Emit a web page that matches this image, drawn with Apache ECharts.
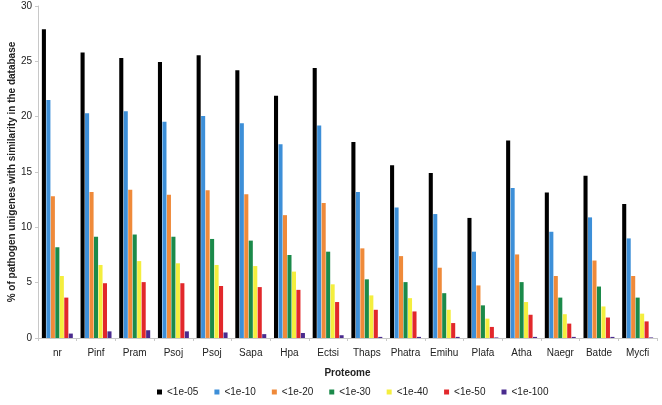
<!DOCTYPE html>
<html>
<head>
<meta charset="utf-8">
<script src="https://cdn.jsdelivr.net/npm/echarts@6/dist/echarts.min.js"></script>
<style>html,body{margin:0;padding:0;background:#fff}#c{width:662px;height:405px}</style>
</head>
<body>
<div id="c"></div>
<script>
const categories = ['nr','Pinf','Pram','Psoj','Psoj','Sapa','Hpa','Ectsi','Thaps','Phatra','Emihu','Plafa','Atha','Naegr','Batde','Mycfi'];
const seriesNames = ['<1e-05','<1e-10','<1e-20','<1e-30','<1e-40','<1e-50','<1e-100'];
const e05  = [27.9,25.8,25.3,24.95,25.55,24.2,21.9,24.4,17.7,15.6,14.9,10.85,17.85,13.15,14.65,12.1];
const e10  = [21.5,20.3,20.5,19.55,20.05,19.4,17.5,19.2,13.2,11.8,11.2,7.8,13.55,9.6,10.9,9.0];
const e20  = [12.8,13.2,13.4,12.95,13.35,13.0,11.1,12.2,8.1,7.4,6.35,4.75,7.55,5.6,7.0,5.6];
const e30  = [8.2,9.15,9.35,9.15,8.95,8.8,7.5,7.8,5.3,5.05,4.05,2.95,5.05,3.65,4.65,3.65];
const e40  = [5.6,6.6,6.95,6.75,6.6,6.5,6.0,4.85,3.85,3.6,2.55,1.75,3.25,2.15,2.85,2.2];
const e50  = [3.65,4.95,5.05,4.95,4.7,4.6,4.35,3.25,2.55,2.4,1.35,1.0,2.1,1.3,1.85,1.5];
const e100 = [0.4,0.6,0.7,0.6,0.5,0.35,0.45,0.25,0.1,0.1,0.1,0.05,0.1,0.1,0.1,0.05];
const values = [e05,e10,e20,e30,e40,e50,e100];
const colors = ['#000000','#3d8fd8','#ef8a3a','#1b8a4a','#f4ee3e','#e2282b','#4a2b8e'];

const chart = echarts.init(document.getElementById('c'));
chart.setOption({
  animation: false,
  textStyle: {fontFamily: 'Liberation Sans, Arial, sans-serif'},
  grid: {left: 38, right: 5, top: 6, bottom: 67, containLabel: false, outerBoundsMode: 'none'},
  legend: {
    bottom: 3, left: 152, itemWidth: 5, itemHeight: 5, itemGap: 16, icon: 'rect',
    textStyle: {fontSize: 10, color: '#222'},
    data: seriesNames
  },
  xAxis: {
    type: 'category', data: categories,
    name: 'Proteome', nameLocation: 'middle', nameGap: 30, nameMoveOverlap: false,
    nameTextStyle: {fontWeight: 'bold', fontSize: 10, color: '#222'},
    axisLine: {lineStyle: {color: '#c8c8c8'}},
    axisTick: {show: true, alignWithLabel: false, length: 3, lineStyle: {color: '#c8c8c8'}},
    axisLabel: {fontSize: 10, color: '#222', margin: 10, interval: 0}
  },
  yAxis: {
    type: 'value', min: 0, max: 30, interval: 5,
    name: '% of pathogen unigenes with similarity in the database', nameLocation: 'middle', nameGap: 21, nameMoveOverlap: false,
    nameTextStyle: {fontWeight: 'bold', fontSize: 10, color: '#222'},
    axisLine: {show: true, lineStyle: {color: '#c8c8c8'}},
    axisTick: {show: true, length: 3, lineStyle: {color: '#c8c8c8'}},
    splitLine: {show: false},
    axisLabel: {fontSize: 10, color: '#222', margin: 6}
  },
  series: seriesNames.map((n, i) => ({
    name: n, type: 'bar', data: values[i],
    itemStyle: {color: colors[i]},
    barGap: '10%', barCategoryGap: '20%'
  }))
});
</script>
</body>
</html>
